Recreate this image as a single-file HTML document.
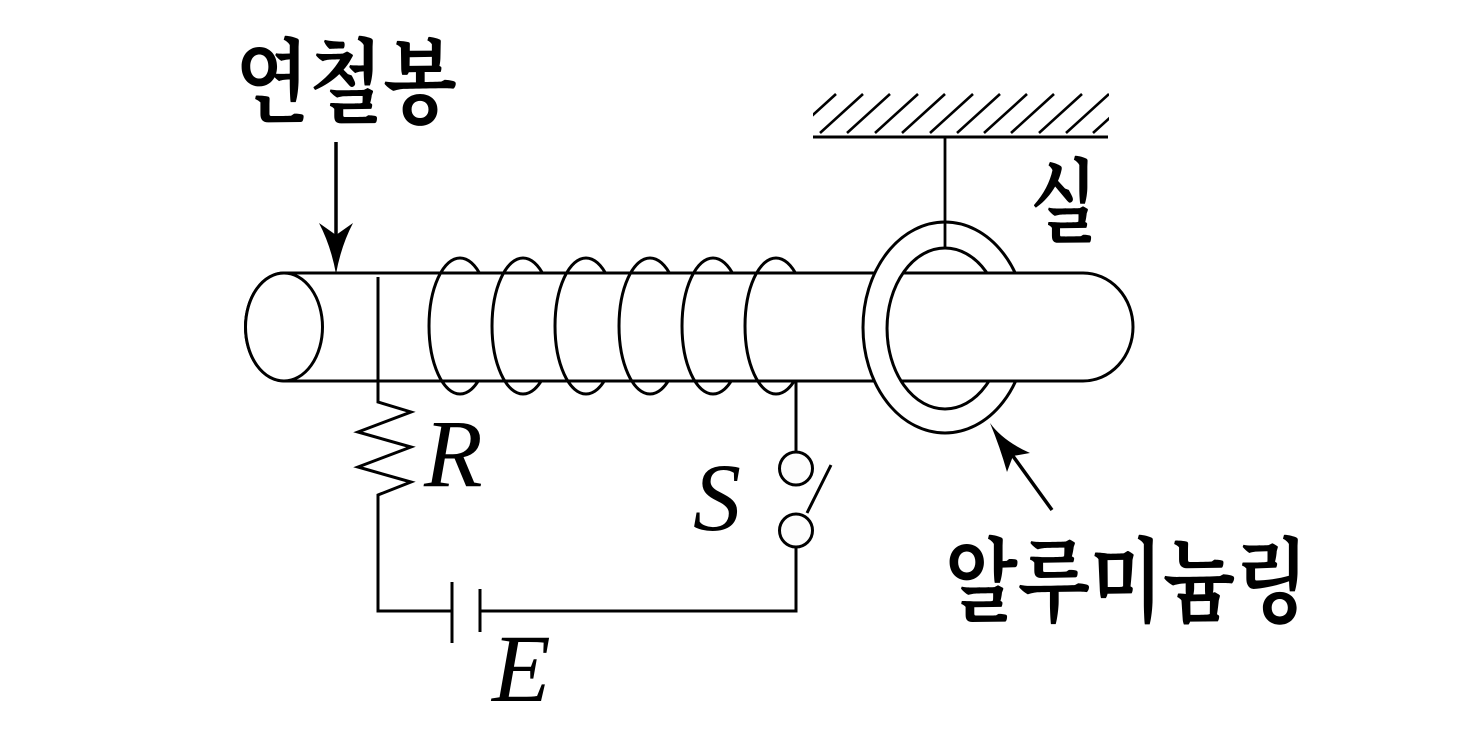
<!DOCTYPE html>
<html>
<head>
<meta charset="utf-8">
<style>
  html, body { margin: 0; padding: 0; background: #ffffff; }
  svg { display: block; }
  .ko { font-family: "Liberation Serif", "Noto Serif CJK SC", "Noto Sans CJK KR", serif; font-weight: 700; fill: #000; }
  .it { font-family: "Liberation Serif", serif; font-style: italic; fill: #000; }
</style>
</head>
<body>
<svg width="1469" height="750" viewBox="0 0 1469 750" xmlns="http://www.w3.org/2000/svg">
  <rect x="0" y="0" width="1469" height="750" fill="#ffffff"/>
  <defs>
    <clipPath id="hc"><rect x="813" y="90" width="296" height="46"/></clipPath>
  </defs>

  <!-- Ceiling hatch -->
  <g clip-path="url(#hc)" stroke="#000" stroke-width="2.6" fill="none">
    <line x1="793" y1="133" x2="836" y2="94"/>
    <line x1="820" y1="133" x2="863" y2="94"/>
    <line x1="847" y1="133" x2="890" y2="94"/>
    <line x1="875" y1="133" x2="918" y2="94"/>
    <line x1="902" y1="133" x2="945" y2="94"/>
    <line x1="930" y1="133" x2="973" y2="94"/>
    <line x1="957" y1="133" x2="1000" y2="94"/>
    <line x1="984" y1="133" x2="1027" y2="94"/>
    <line x1="1011" y1="133" x2="1054" y2="94"/>
    <line x1="1039" y1="133" x2="1082" y2="94"/>
    <line x1="1066" y1="133" x2="1109" y2="94"/>
    <line x1="1093" y1="133" x2="1136" y2="94"/>
  </g>
  <line x1="813" y1="137" x2="1108" y2="137" stroke="#000" stroke-width="3"/>

  <!-- Coil back halves -->
  <g stroke="#000" stroke-width="3" fill="none">
    <path d="M460,258 A31,68 0 0 1 460,394"/>
    <path d="M523,258 A31,68 0 0 1 523,394"/>
    <path d="M586,258 A31,68 0 0 1 586,394"/>
    <path d="M650,258 A31,68 0 0 1 650,394"/>
    <path d="M713,258 A31,68 0 0 1 713,394"/>
    <path d="M776,258 A31,68 0 0 1 776,394"/>
  </g>

  <!-- Ring back halves -->
  <g stroke="#000" stroke-width="3" fill="none">
    <path d="M945,222 A82,105.5 0 0 1 945,433"/>
    <path d="M945,248 A58,80.5 0 0 1 945,409"/>
  </g>

  <!-- Rod -->
  <path d="M284,273 L1083,273 A50,54 0 0 1 1083,381 L284,381 A38.5,54 0 0 1 284,273 Z" fill="#fff" stroke="#000" stroke-width="3"/>
  <ellipse cx="284" cy="327" rx="38.5" ry="54" fill="#fff" stroke="#000" stroke-width="3"/>

  <!-- Coil front halves -->
  <g stroke="#000" stroke-width="3" fill="none">
    <path d="M460,258 A31,68 0 0 0 460,394"/>
    <path d="M523,258 A31,68 0 0 0 523,394"/>
    <path d="M586,258 A31,68 0 0 0 586,394"/>
    <path d="M650,258 A31,68 0 0 0 650,394"/>
    <path d="M713,258 A31,68 0 0 0 713,394"/>
    <path d="M776,258 A31,68 0 0 0 776,394"/>
  </g>

  <!-- Ring front half -->
  <path d="M945,222 A82,105.5 0 0 0 945,433 L945,409 A58,80.5 0 0 1 945,248 Z" fill="#fff" stroke="none"/>
  <g stroke="#000" stroke-width="3" fill="none">
    <path d="M945,222 A82,105.5 0 0 0 945,433"/>
    <path d="M945,248 A58,80.5 0 0 0 945,409"/>
  </g>

  <!-- Thread -->
  <line x1="945" y1="137" x2="945" y2="248" stroke="#000" stroke-width="2.8"/>

  <!-- Circuit -->
  <g stroke="#000" stroke-width="3" fill="none" stroke-linejoin="miter">
    <polyline points="378,277 378,402 411,412 358,432 411,447 358,467 411,482 378,495 378,611 452,611"/>
    <line x1="452" y1="582" x2="452" y2="643"/>
    <line x1="480" y1="589" x2="480" y2="632"/>
    <polyline points="480,611 796,611 796,547"/>
    <line x1="796" y1="381" x2="796" y2="452"/>
    <line x1="807" y1="513" x2="831" y2="465"/>
  </g>
  <circle cx="796" cy="468.5" r="16.5" fill="#fdfdfd" stroke="#000" stroke-width="3"/>
  <circle cx="796" cy="530.5" r="16.5" fill="#fdfdfd" stroke="#000" stroke-width="3"/>

  <!-- Arrow to rod -->
  <line x1="336" y1="142" x2="336" y2="236" stroke="#000" stroke-width="3.5"/>
  <path d="M336,274 Q331,246 319,223 L336,235 L353,223 Q341,246 336,274 Z" fill="#000"/>

  <!-- Arrow to ring -->
  <line x1="1052" y1="510" x2="1010" y2="452" stroke="#000" stroke-width="3.5"/>
  <path d="M990,423 Q1003,441 1030,453 L1013,456 L1007,472 Q1000,447 990,423 Z" fill="#000"/>

  <!-- Labels -->
  <text class="ko" x="235" y="115" font-size="92" textLength="222" lengthAdjust="spacingAndGlyphs">연철봉</text>
  <text class="ko" x="1030" y="235" font-size="92" textLength="67" lengthAdjust="spacingAndGlyphs">실</text>
  <text class="ko" x="945" y="614" font-size="92" textLength="363" lengthAdjust="spacingAndGlyphs">알루미늄링</text>

  <text class="it" x="424" y="486" font-size="96">R</text>
  <text class="it" x="693" y="530" font-size="96">S</text>
  <text class="it" x="492" y="701" font-size="96">E</text>
</svg>
</body>
</html>
